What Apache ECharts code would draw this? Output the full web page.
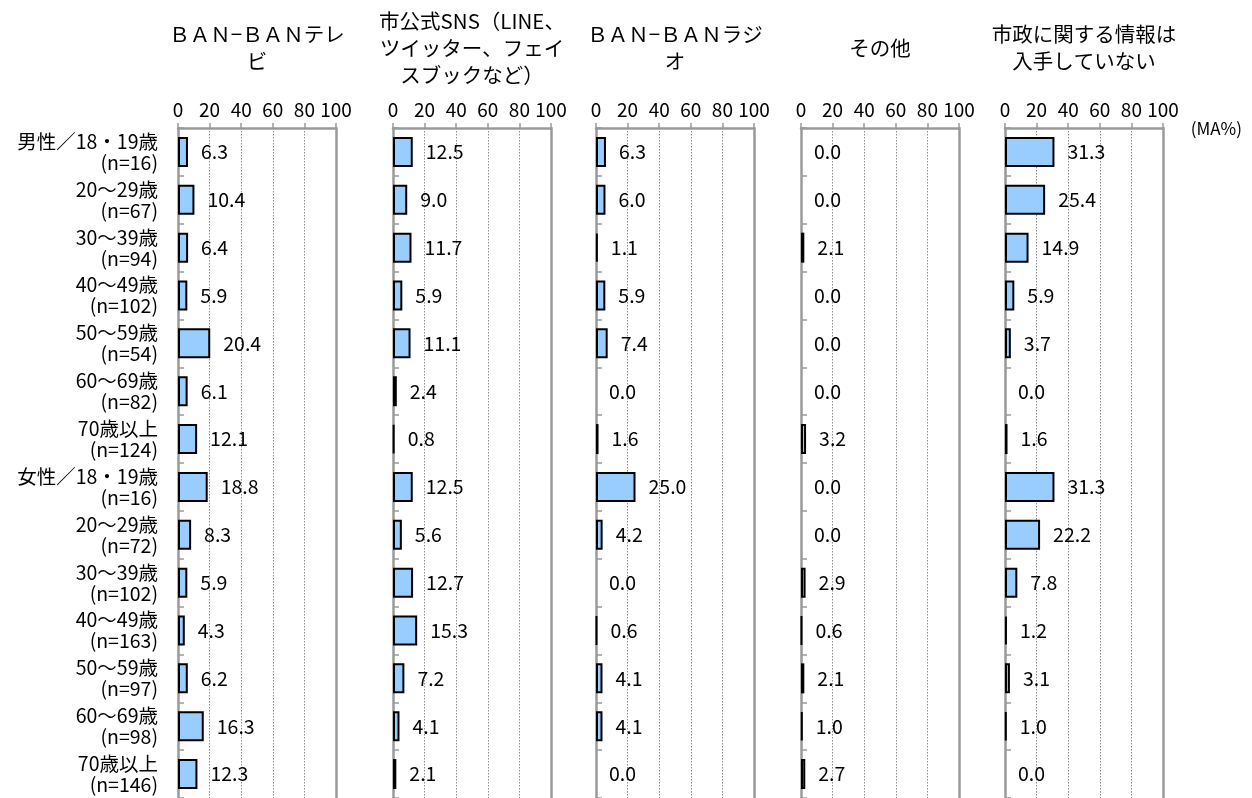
<!DOCTYPE html>
<html>
<head>
<meta charset="utf-8">
<script src="https://cdn.jsdelivr.net/npm/echarts@6/dist/echarts.min.js"></script>
<style>
html,body{margin:0;padding:0;background:#fff;}
#chart{width:1252px;height:798px;}
</style>
</head>
<body>
<div id="chart"></div>
<script>
// ---- data ----
const groupLabels = ['男性／18・19歳','20〜29歳','30〜39歳','40〜49歳','50〜59歳','60〜69歳','70歳以上',
                     '女性／18・19歳','20〜29歳','30〜39歳','40〜49歳','50〜59歳','60〜69歳','70歳以上'];
const sampleLabels = ['(n=16)','(n=67)','(n=94)','(n=102)','(n=54)','(n=82)','(n=124)',
                      '(n=16)','(n=72)','(n=102)','(n=163)','(n=97)','(n=98)','(n=146)'];
const panelTitles = ['ＢＡＮ−ＢＡＮテレ\nビ',
                     '市公式SNS（LINE、\nツイッター、フェイ\nスブックなど）',
                     'ＢＡＮ−ＢＡＮラジ\nオ',
                     'その他',
                     '市政に関する情報は\n入手していない'];
const tvValues    = [6.3,10.4,6.4,5.9,20.4,6.1,12.1,18.8,8.3,5.9,4.3,6.2,16.3,12.3];
const snsValues   = [12.5,9.0,11.7,5.9,11.1,2.4,0.8,12.5,5.6,12.7,15.3,7.2,4.1,2.1];
const radioValues = [6.3,6.0,1.1,5.9,7.4,0.0,1.6,25.0,4.2,0.0,0.6,4.1,4.1,0.0];
const otherValues = [0.0,0.0,2.1,0.0,0.0,0.0,3.2,0.0,0.0,2.9,0.6,2.1,1.0,2.7];
const noneValues  = [31.3,25.4,14.9,5.9,3.7,0.0,1.6,31.3,22.2,7.8,1.2,3.1,1.0,0.0];
const axisTicks = [0,20,40,60,80,100];
const unitLabel = '(MA%)';

// ---- layout ----
const panelValues = [tvValues, snsValues, radioValues, otherValues, noneValues];
const panelLefts = [178, 393, 596, 801, 1005];
const panelWidth = 158;
const gridTop = 128, gridHeight = 672;
const FONT = '"Noto Sans CJK JP", "Noto Sans", sans-serif';
const AXIS_GRAY = '#9a9a9a';

const categories = groupLabels.map((g, i) => g + '\n' + sampleLabels[i]);

const grids = [], xAxes = [], yAxes = [], series = [], titles = [];
panelValues.forEach((vals, p) => {
  grids.push({left: panelLefts[p], top: gridTop, width: panelWidth, height: gridHeight, containLabel: false});
  xAxes.push({
    type: 'value', gridIndex: p, position: 'top', min: axisTicks[0], max: axisTicks[axisTicks.length-1],
    interval: axisTicks[1] - axisTicks[0],
    axisLine: {show: true, lineStyle: {color: AXIS_GRAY, width: 2.5}},
    axisTick: {show: true, length: 5, lineStyle: {color: AXIS_GRAY, width: 1.5}},
    axisLabel: {fontFamily: FONT, fontSize: 19, color: '#000', margin: 9},
    splitLine: {show: true, lineStyle: {color: '#8c8c8c', width: 1, type: [1.5, 1.5]}}
  });
  yAxes.push({
    type: 'category', gridIndex: p, data: categories, inverse: true,
    axisLine: {show: true, lineStyle: {color: AXIS_GRAY, width: 2.5}},
    axisTick: {show: true, inside: true, length: 6, lineStyle: {color: AXIS_GRAY, width: 1.5}},
    axisLabel: {show: p === 0, fontFamily: FONT, fontSize: 19.5, lineHeight: 21, color: '#000',
                align: 'right', margin: 20},
    splitLine: {show: false}
  });
  yAxes.push({
    type: 'category', gridIndex: p, data: categories, inverse: true, position: 'right',
    axisLine: {show: true, lineStyle: {color: AXIS_GRAY, width: 2.5}},
    axisTick: {show: false}, axisLabel: {show: false}, splitLine: {show: false}
  });
  series.push({
    type: 'bar', xAxisIndex: p, yAxisIndex: p * 2, barWidth: 30,
    data: vals.map(v => ({value: v, itemStyle: {borderWidth: v > 0 ? 2 : 0}})),
    itemStyle: {color: '#99CCFF', borderColor: '#000', borderWidth: 2},
    label: {show: true, position: 'right', distance: 13, fontFamily: FONT, fontSize: 19.5, color: '#000',
            formatter: d => d.value.toFixed(1)},
    silent: true, animation: false
  });
  const nLines = panelTitles[p].split('\n').length;
  titles.push({
    text: panelTitles[p], left: panelLefts[p] + panelWidth / 2, textAlign: 'center',
    top: 48 - nLines * 13.5, padding: 0,
    textStyle: {fontFamily: FONT, fontSize: 20.5, fontWeight: 'normal', color: '#000', lineHeight: 27}
  });
});

const chart = echarts.init(document.getElementById('chart'), null, {renderer: 'canvas'});
chart.setOption({
  animation: false,
  backgroundColor: '#fff',
  title: titles,
  grid: grids, xAxis: xAxes, yAxis: yAxes, series: series,
  graphic: [{
    type: 'text', right: 10, top: 120,
    style: {text: unitLabel, font: '17px ' + FONT, fill: '#000'}
  }]
});
</script>
</body>
</html>
